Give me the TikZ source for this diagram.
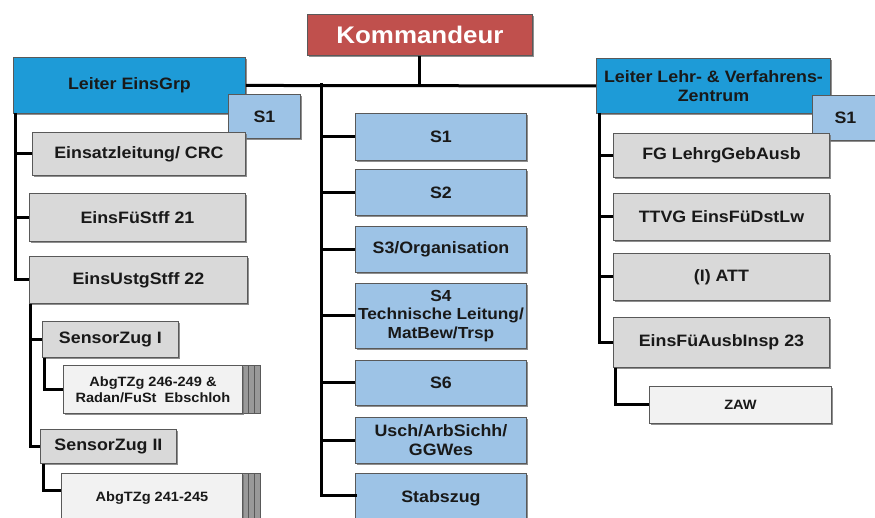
\documentclass[tikz,border=0pt]{standalone}
\usepackage{fontspec}
\setmainfont{Liberation Sans}[FakeStretch=1.08]
\usetikzlibrary{shadows}
\definecolor{kred}{HTML}{C0504D}
\definecolor{lblue}{HTML}{1E9BD7}
\definecolor{sblue}{HTML}{9DC3E6}
\definecolor{bgray}{HTML}{D9D9D9}
\definecolor{wgray}{HTML}{F2F2F2}
\definecolor{bordr}{HTML}{595959}
\tikzset{
  box/.style={draw=bordr, line width=0.9pt, rectangle, anchor=north west, inner sep=1pt,
    align=center, font=\fontsize{16.5}{19}\selectfont\bfseries, text=black!90,
    drop shadow={shadow xshift=2pt, shadow yshift=-2pt, fill=black!55, opacity=0.8}},
  redbox/.style={box, fill=kred, text=white, font=\fontsize{24}{26}\selectfont\bfseries},
  bluebox/.style={box, fill=lblue},
  sbox/.style={box, fill=sblue},
  gbox/.style={box, fill=bgray},
  wbox/.style={box, fill=wgray, font=\fontsize{13.5}{16}\selectfont\bfseries},
  pagebox/.style={draw=bordr, line width=0.8pt, fill=black!40},
  conn/.style={draw=black, line width=3pt}
}
\begin{document}
\begin{tikzpicture}[x=1pt,y=-1pt]
\useasboundingbox (0,0) rectangle (875,518);
% top
\node[redbox, minimum width=225pt, minimum height=41pt] (kom) at (307,14) {Kommandeur};
% left branch
\node[bluebox, minimum width=232pt, minimum height=56pt] (leg) at (13,57) {Leiter EinsGrp};
\node[sbox, minimum width=72pt, minimum height=44pt] (s1a) at (228,94) {S1};
\node[gbox, minimum width=213pt, minimum height=43pt] (ein) at (32,132) {Einsatzleitung/ CRC};
\node[gbox, minimum width=216pt, minimum height=48pt] (ef) at (29,193) {EinsFüStff 21};
\node[gbox, minimum width=218pt, minimum height=47pt] (eu) at (29,256) {EinsUstgStff 22};
\node[gbox, minimum width=136pt, minimum height=36pt] (sz1) at (42,321) {SensorZug I};
\foreach \d in {18,12,6}{
  \path[pagebox] (63+\d,365) rectangle (242+\d,413);
}
\node[wbox, minimum width=179pt, minimum height=48pt] (abg1) at (63,365) {AbgTZg 246-249 \&\\Radan/FuSt\ \ Ebschloh};
\node[gbox, minimum width=136pt, minimum height=34pt] (sz2) at (40,429) {SensorZug II};
\foreach \d in {18,12,6}{
  \path[pagebox] (61+\d,473) rectangle (242+\d,530);
}
\node[wbox, minimum width=181pt, minimum height=50pt] (abg2) at (61,473) {AbgTZg 241-245};
% middle branch
\node[sbox, minimum width=171pt, minimum height=47pt] (m1) at (355,113) {S1};
\node[sbox, minimum width=171pt, minimum height=46pt] (m2) at (355,169) {S2};
\node[sbox, minimum width=171pt, minimum height=46pt] (m3) at (355,226) {S3/Organisation};
\node[sbox, minimum width=171pt, minimum height=65pt, inner sep=0pt,
  font=\fontsize{16}{18.5}\selectfont\bfseries] (m4) at (355,283) {S4\\Technische Leitung/\\MatBew/Trsp};
\node[sbox, minimum width=171pt, minimum height=45pt] (m6) at (355,360) {S6};
\node[sbox, minimum width=171pt, minimum height=46pt] (mu) at (355,417) {Usch/ArbSichh/\\GGWes};
\node[sbox, minimum width=171pt, minimum height=50pt] (ms) at (355,473) {Stabszug};
% right branch
\node[bluebox, minimum width=234pt, minimum height=55pt, inner sep=0pt] (lvz) at (596,58) {Leiter Lehr- \& Verfahrens-\\Zentrum};
\node[sbox, minimum width=66pt, minimum height=45pt] (s1b) at (812,95) {S1};
\node[gbox, minimum width=216pt, minimum height=44pt] (fg) at (613,133) {FG LehrgGebAusb};
\node[gbox, minimum width=216pt, minimum height=47pt] (ttvg) at (613,193) {TTVG EinsFüDstLw};
\node[gbox, minimum width=216pt, minimum height=47pt] (att) at (613,253) {(I) ATT};
\node[gbox, minimum width=216pt, minimum height=50pt] (efa) at (613,317) {EinsFüAusbInsp 23};
\node[wbox, minimum width=182pt, minimum height=37pt] (zaw) at (649,386) {ZAW};
% connectors
\coordinate (mtop) at (321,85);
\coordinate (lv) at (15,113);
\coordinate (rv) at (599,113);
\draw[conn] (kom.south) -- (kom.south |- leg.east);
\draw[conn] (leg.east) -- (lvz.west);
\draw[conn, line cap=rect] (mtop) |- ([yshift=-22pt]ms.north west);
\foreach \n in {m1,m2,m3,m4,m6,mu}{\draw[conn] (mtop |- \n.west) -- (\n.west);}
\draw[conn] (lv) |- (eu.west);
\draw[conn] (lv |- ein.west) -- (ein.west);
\draw[conn] (lv |- ef.west) -- (ef.west);
\draw[conn] ([xshift=1pt]eu.south west) |- (sz2.west);
\draw[conn] ([xshift=1pt]eu.south west |- sz1.west) -- (sz1.west);
\draw[conn] ([xshift=2pt]sz1.south west) |- (abg1.west);
\draw[conn] ([xshift=3pt]sz2.south west) |- ([yshift=-17pt]abg2.north west);
\draw[conn] (rv) |- (efa.west);
\draw[conn] (rv |- fg.west) -- (fg.west);
\draw[conn] (rv |- ttvg.west) -- (ttvg.west);
\draw[conn] (rv |- att.west) -- (att.west);
\draw[conn] ([xshift=2pt]efa.south west) |- (zaw.west);
\end{tikzpicture}
\end{document}
